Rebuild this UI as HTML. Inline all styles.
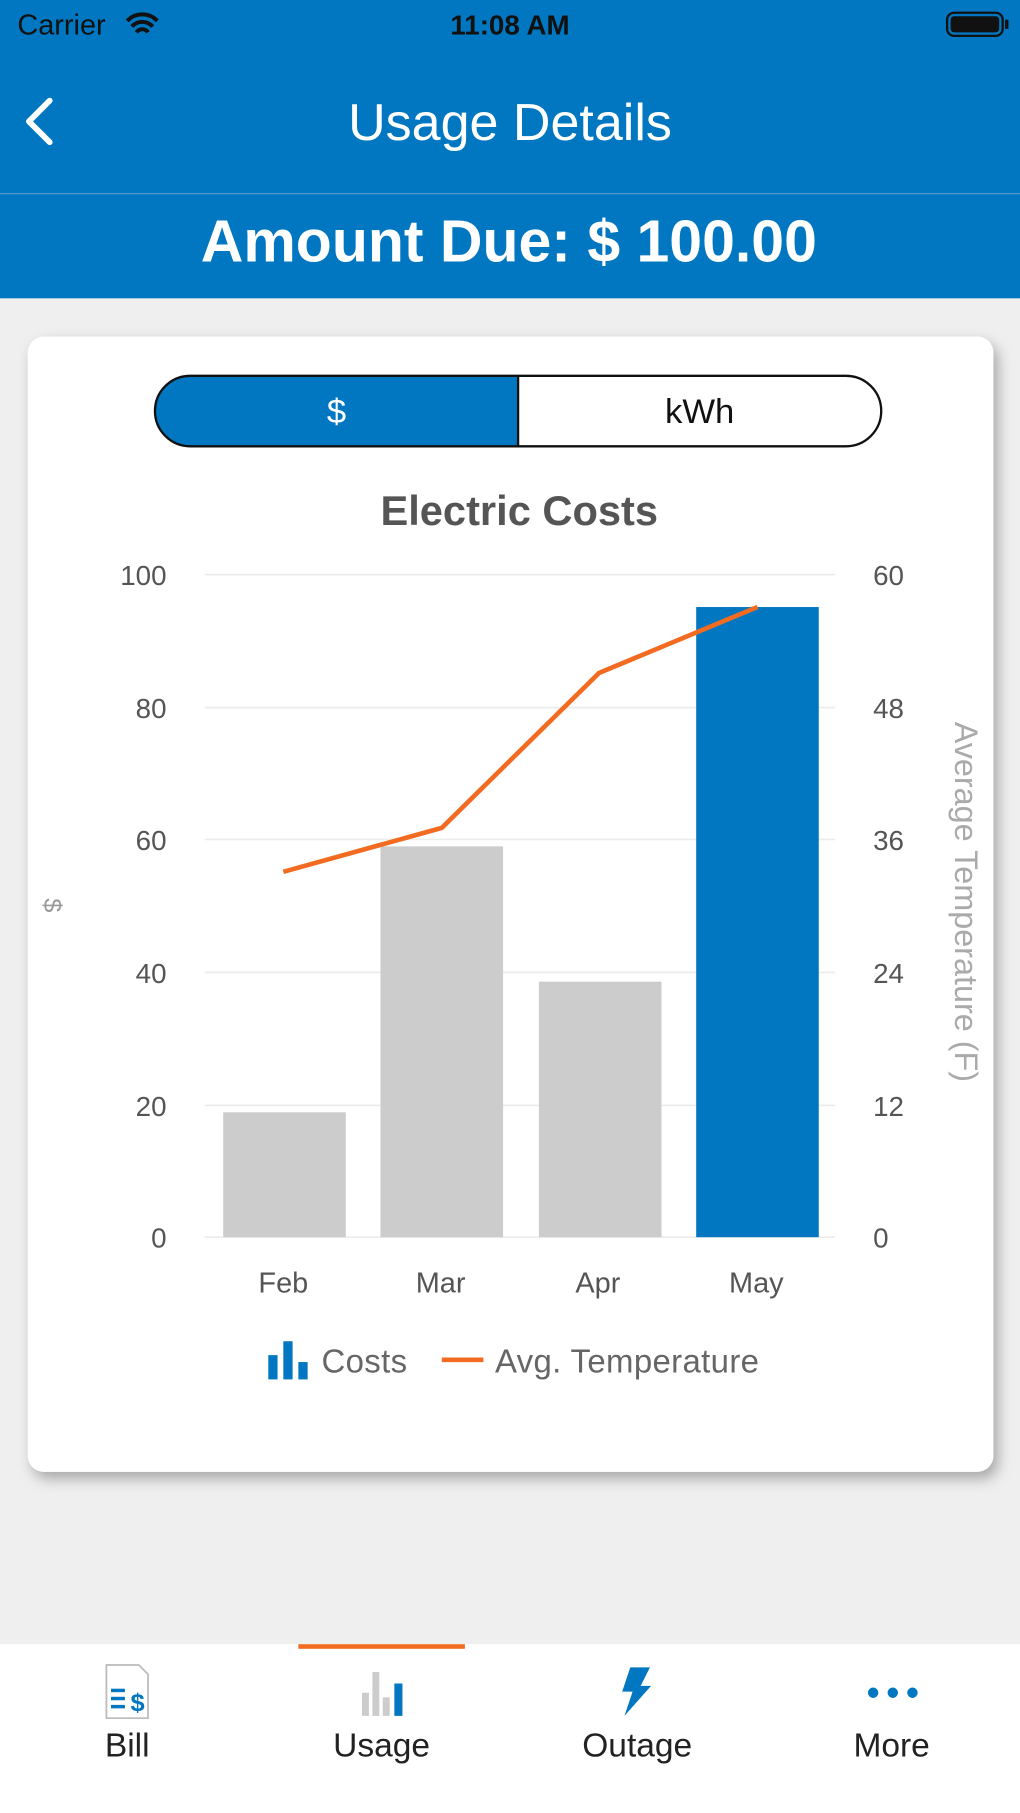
<!DOCTYPE html>
<html><head><meta charset="utf-8"><style>
html,body{margin:0;padding:0;width:1020px;height:1813px;overflow:hidden;background:#efefef}
svg{display:block}
</style></head><body>
<svg width="1020" height="1813" viewBox="0 0 882 1568" preserveAspectRatio="none" xmlns="http://www.w3.org/2000/svg" font-family="Liberation Sans, sans-serif">
<defs><filter id="sh" x="-10%" y="-10%" width="120%" height="120%"><feDropShadow dx="4" dy="6" stdDeviation="6" flood-color="#000" flood-opacity="0.3"/></filter></defs>
<rect x="0" y="0" width="882" height="1568" fill="#efefef"/>
<rect x="0" y="0" width="882" height="258" fill="#0077c0"/>
<line x1="0" y1="167.5" x2="882" y2="167.5" stroke="#5a9fd0" stroke-width="1"/>
<text x="15" y="30" font-size="25" fill="#111">Carrier</text>
<path d="M110 18 a18 18 0 0 1 26 0 M114 23 a12 12 0 0 1 18 0 M118 28 a6 6 0 0 1 10 0" stroke="#111" stroke-width="3.5" fill="none"/>
<text x="441" y="30" font-size="24" font-weight="bold" fill="#111" text-anchor="middle">11:08 AM</text>
<rect x="819" y="11" width="48" height="20" rx="6" fill="none" stroke="#111" stroke-width="2"/>
<rect x="822" y="14" width="42" height="14" rx="3" fill="#111"/>
<rect x="869" y="17" width="3" height="8" fill="#111"/>
<path d="M43 87 L25 105 L43 123" stroke="#fff" stroke-width="5" fill="none" stroke-linecap="round" stroke-linejoin="round"/>
<text x="441" y="121" font-size="45" fill="#fff" text-anchor="middle">Usage Details</text>
<text x="440" y="226" font-size="51" font-weight="bold" fill="#fff" text-anchor="middle">Amount Due: $ 100.00</text>
<rect x="24" y="291" width="835" height="982" rx="14" fill="#fff" filter="url(#sh)"/>
<path d="M165 325 H448 V386 H165 A30.5 30.5 0 0 1 165 325Z" fill="#0077c0"/>
<rect x="134" y="325" width="628" height="61" rx="30.5" fill="none" stroke="#111" stroke-width="2"/>
<line x1="448" y1="325" x2="448" y2="386" stroke="#111" stroke-width="2"/>
<text x="291" y="366" font-size="30" fill="#fff" text-anchor="middle">$</text>
<text x="605" y="366" font-size="30" fill="#111" text-anchor="middle">kWh</text>
<text x="449" y="454" font-size="36" font-weight="bold" fill="#555" text-anchor="middle">Electric Costs</text>
<g stroke="#ececec" stroke-width="1.5">
<line x1="177" y1="497" x2="722" y2="497"/><line x1="177" y1="612" x2="722" y2="612"/><line x1="177" y1="726" x2="722" y2="726"/><line x1="177" y1="841" x2="722" y2="841"/><line x1="177" y1="956" x2="722" y2="956"/><line x1="177" y1="1070" x2="722" y2="1070"/>
</g>
<g font-size="24" fill="#555" text-anchor="end">
<text x="144" y="506">100</text><text x="144" y="621">80</text><text x="144" y="735">60</text><text x="144" y="850">40</text><text x="144" y="965">20</text><text x="144" y="1079">0</text>
</g>
<g font-size="24" fill="#555">
<text x="755" y="506">60</text><text x="755" y="621">48</text><text x="755" y="735">36</text><text x="755" y="850">24</text><text x="755" y="965">12</text><text x="755" y="1079">0</text>
</g>
<rect x="193" y="962" width="106" height="108" fill="#cccccc"/>
<rect x="329" y="732" width="106" height="338" fill="#cccccc"/>
<rect x="466" y="849" width="106" height="221" fill="#cccccc"/>
<rect x="602" y="525" width="106" height="545" fill="#0077c0"/>
<polyline points="245,754 382,716 518,582 655,525" fill="none" stroke="#f26b21" stroke-width="4"/>
<g font-size="25" fill="#555" text-anchor="middle">
<text x="245" y="1118">Feb</text><text x="381" y="1118">Mar</text><text x="517" y="1118">Apr</text><text x="654" y="1118">May</text>
</g>
<text transform="translate(38,783) rotate(90)" font-size="22" fill="#999" text-anchor="middle">$</text>
<text transform="translate(826,780) rotate(90)" font-size="28" fill="#aaa" text-anchor="middle">Average Temperature (F)</text>
<rect x="232" y="1172" width="8" height="21" fill="#0077c0"/><rect x="245" y="1160" width="8" height="33" fill="#0077c0"/><rect x="258" y="1178" width="8" height="15" fill="#0077c0"/>
<text x="278" y="1187" font-size="28.5" fill="#666" letter-spacing="0.3">Costs</text>
<line x1="382" y1="1176" x2="418" y2="1176" stroke="#f26b21" stroke-width="4"/>
<text x="428" y="1187" font-size="28.5" fill="#666" letter-spacing="0.3">Avg. Temperature</text>
<rect x="0" y="1422" width="882" height="146" fill="#fff"/>
<rect x="258" y="1422" width="144" height="4" fill="#f26b21"/>
<path d="M92 1440 H120 L128 1448 V1486 H92Z" fill="#fff" stroke="#bbb" stroke-width="1.5"/>
<g stroke="#0077c0" stroke-width="3"><line x1="96" y1="1462" x2="108" y2="1462"/><line x1="96" y1="1469" x2="108" y2="1469"/><line x1="96" y1="1476" x2="108" y2="1476"/></g>
<text x="119" y="1480" font-size="22" font-weight="bold" fill="#0077c0" text-anchor="middle">$</text>
<text x="110" y="1519" font-size="29" fill="#222" text-anchor="middle">Bill</text>
<rect x="313" y="1464" width="6" height="20" fill="#ccc"/><rect x="322" y="1446" width="6" height="38" fill="#ccc"/><rect x="331" y="1468" width="6" height="16" fill="#ccc"/><rect x="341" y="1456" width="7" height="28" fill="#0077c0"/>
<text x="330" y="1519" font-size="29" fill="#222" text-anchor="middle">Usage</text>
<path d="M545 1442 H562 L554 1458 H563 L540 1484 L547 1463 H538Z" fill="#0077c0"/>
<text x="551" y="1519" font-size="29" fill="#222" text-anchor="middle">Outage</text>
<circle cx="755" cy="1464" r="4.5" fill="#0077c0"/><circle cx="772" cy="1464" r="4.5" fill="#0077c0"/><circle cx="789" cy="1464" r="4.5" fill="#0077c0"/>
<text x="771" y="1519" font-size="29" fill="#222" text-anchor="middle">More</text>
</svg>
</body></html>
